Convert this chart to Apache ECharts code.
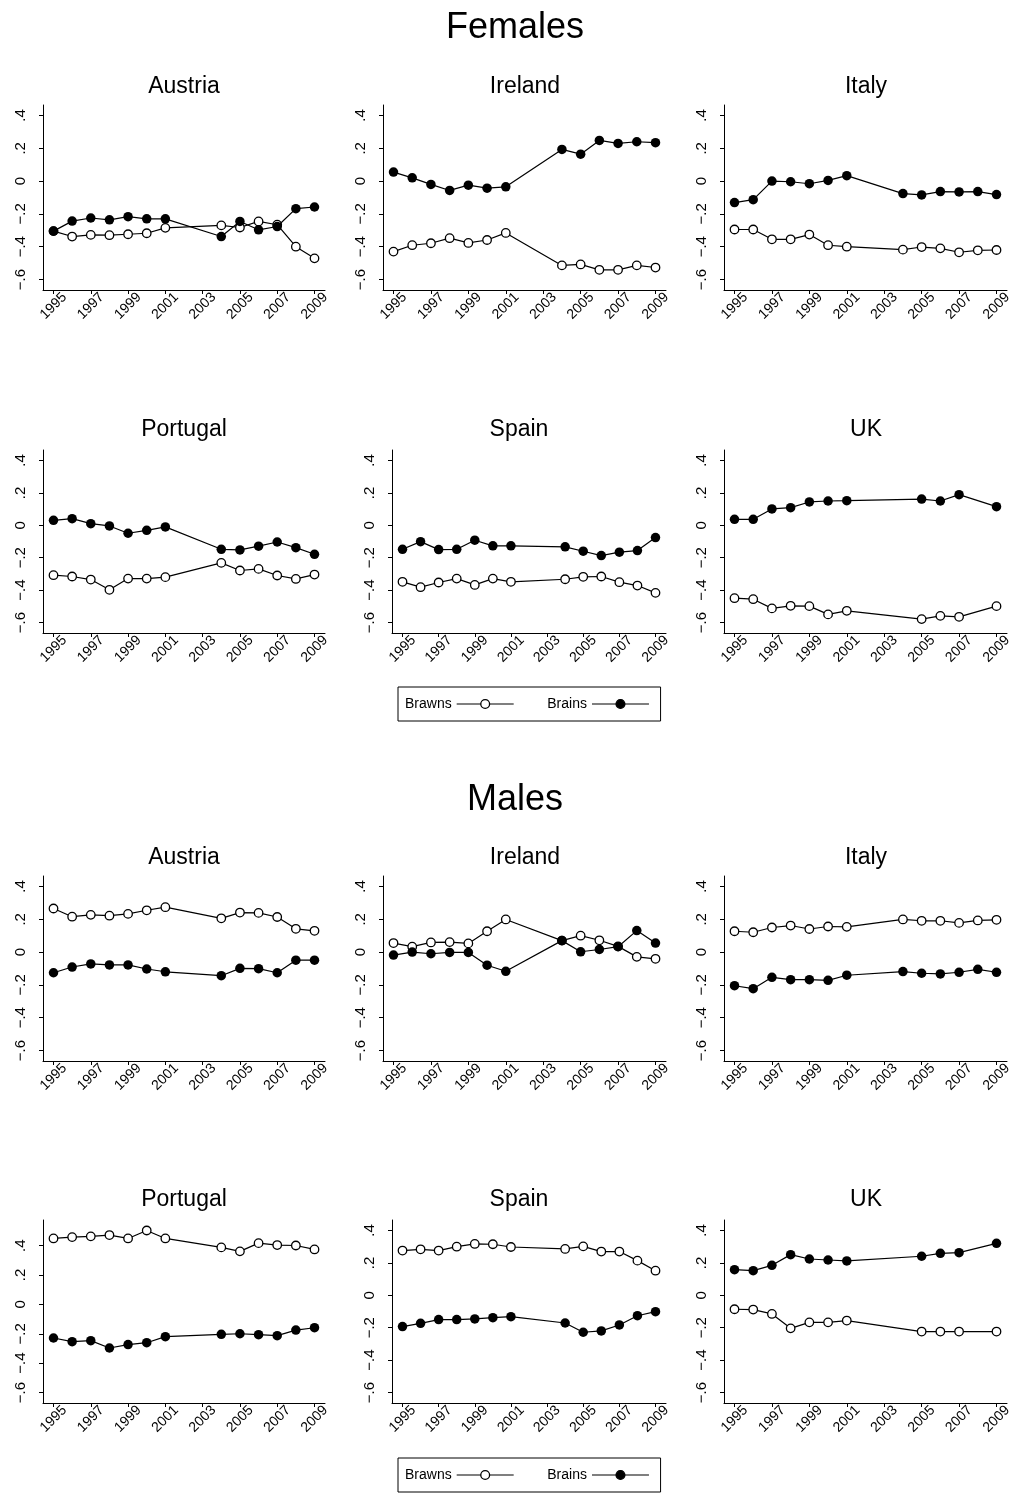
<!DOCTYPE html>
<html>
<head>
<meta charset="utf-8">
<title>Brawns and Brains by country, 1995-2009</title>
<script src="https://cdn.jsdelivr.net/npm/echarts@6/dist/echarts.min.js"></script>
<style>
  html, body { margin: 0; padding: 0; background: #fff; }
  #chart { width: 1009px; height: 1495px; }
</style>
</head>
<body>
<div id="chart"></div>
<script>
// ---- data -------------------------------------------------------------
const yearsMain = [1995, 1996, 1997, 1998, 1999, 2000, 2001, 2004, 2005, 2006, 2007, 2008, 2009];
const yearsUK   = [1995, 1996, 1997, 1998, 1999, 2000, 2001, 2005, 2006, 2007, 2009];

const xTickValues = [1995, 1997, 1999, 2001, 2003, 2005, 2007, 2009];
const yTickValues = [-0.6, -0.4, -0.2, 0, 0.2, 0.4];
const yTickLabels = ['\u2212.6', '\u2212.4', '\u2212.2', '0', '.2', '.4'];

// Females
const femAustriaBrawns  = [-0.305, -0.338, -0.328, -0.330, -0.324, -0.318, -0.285, -0.270, -0.283, -0.246, -0.266, -0.400, -0.471];
const femAustriaBrains  = [-0.305, -0.244, -0.225, -0.236, -0.217, -0.230, -0.230, -0.338, -0.246, -0.297, -0.277, -0.168, -0.158];
const femIrelandBrawns  = [-0.430, -0.391, -0.379, -0.348, -0.377, -0.359, -0.316, -0.514, -0.508, -0.541, -0.541, -0.514, -0.527];
const femIrelandBrains  = [0.055, 0.020, -0.020, -0.057, -0.025, -0.043, -0.035, 0.193, 0.164, 0.248, 0.230, 0.240, 0.234];
const femItalyBrawns    = [-0.295, -0.295, -0.355, -0.355, -0.326, -0.391, -0.400, -0.418, -0.402, -0.410, -0.434, -0.422, -0.420];
const femItalyBrains    = [-0.131, -0.113, 0.000, -0.004, -0.016, 0.004, 0.033, -0.076, -0.084, -0.064, -0.066, -0.064, -0.082];
const femPortugalBrawns = [-0.308, -0.316, -0.335, -0.398, -0.329, -0.329, -0.320, -0.232, -0.279, -0.269, -0.310, -0.331, -0.304];
const femPortugalBrains = [0.031, 0.041, 0.010, -0.004, -0.049, -0.031, -0.010, -0.148, -0.152, -0.129, -0.103, -0.138, -0.179];
const femSpainBrawns    = [-0.349, -0.382, -0.353, -0.329, -0.368, -0.329, -0.349, -0.333, -0.318, -0.316, -0.351, -0.372, -0.417];
const femSpainBrains    = [-0.148, -0.101, -0.150, -0.148, -0.092, -0.127, -0.127, -0.133, -0.160, -0.187, -0.166, -0.156, -0.076];
const femUKBrawns       = [-0.450, -0.456, -0.513, -0.497, -0.499, -0.550, -0.528, -0.579, -0.559, -0.565, -0.499];
const femUKBrains       = [0.037, 0.037, 0.101, 0.109, 0.144, 0.150, 0.152, 0.162, 0.150, 0.189, 0.115];

// Males
const maleAustriaBrawns  = [0.266, 0.216, 0.227, 0.222, 0.233, 0.255, 0.274, 0.206, 0.241, 0.239, 0.214, 0.142, 0.130];
const maleAustriaBrains  = [-0.126, -0.091, -0.072, -0.078, -0.078, -0.103, -0.120, -0.144, -0.099, -0.101, -0.126, -0.049, -0.049];
const maleIrelandBrawns  = [0.055, 0.033, 0.059, 0.061, 0.053, 0.127, 0.199, 0.070, 0.100, 0.072, 0.035, -0.029, -0.041];
const maleIrelandBrains  = [-0.018, 0.000, -0.010, -0.002, -0.002, -0.080, -0.117, 0.070, 0.002, 0.016, 0.033, 0.131, 0.055];
const maleItalyBrawns    = [0.127, 0.121, 0.150, 0.162, 0.141, 0.156, 0.154, 0.199, 0.191, 0.191, 0.178, 0.193, 0.197];
const maleItalyBrains    = [-0.205, -0.223, -0.154, -0.168, -0.168, -0.172, -0.141, -0.119, -0.129, -0.133, -0.123, -0.105, -0.123];
const malePortugalBrawns = [0.449, 0.458, 0.463, 0.472, 0.449, 0.503, 0.449, 0.388, 0.361, 0.417, 0.404, 0.401, 0.374];
const malePortugalBrains = [-0.229, -0.254, -0.247, -0.297, -0.274, -0.261, -0.220, -0.204, -0.200, -0.206, -0.213, -0.175, -0.159];
const maleSpainBrawns    = [0.276, 0.284, 0.276, 0.300, 0.317, 0.315, 0.298, 0.286, 0.302, 0.270, 0.270, 0.214, 0.152];
const maleSpainBrains    = [-0.193, -0.173, -0.150, -0.150, -0.146, -0.138, -0.132, -0.171, -0.228, -0.220, -0.183, -0.126, -0.101];
const maleUKBrawns       = [-0.086, -0.088, -0.115, -0.204, -0.167, -0.167, -0.156, -0.224, -0.224, -0.224, -0.224];
const maleUKBrains       = [0.158, 0.152, 0.185, 0.251, 0.224, 0.218, 0.212, 0.241, 0.259, 0.263, 0.321];

// ---- layout -----------------------------------------------------------
const FONT = '"Liberation Sans", Arial, Helvetica, sans-serif';
const INK = '#000';

const rows = [
  { top: 105,  height: 185, titleY: 87 },
  { top: 450,  height: 183, titleY: 430 },
  { top: 876,  height: 185, titleY: 858 },
  { top: 1220, height: 183, titleY: 1200 }
];
const cols = [
  { left: 43,  width: 282, titleX: 184 },
  { left: 383, width: 283, titleX: 525 },
  { left: 724, width: 283, titleX: 866 }
];
const colSpain = { left: 392, width: 274, titleX: 519 };

const panels = [
  { name: 'Austria',  row: 0, col: cols[0], years: yearsMain, brawns: femAustriaBrawns,  brains: femAustriaBrains },
  { name: 'Ireland',  row: 0, col: cols[1], years: yearsMain, brawns: femIrelandBrawns,  brains: femIrelandBrains },
  { name: 'Italy',    row: 0, col: cols[2], years: yearsMain, brawns: femItalyBrawns,    brains: femItalyBrains },
  { name: 'Portugal', row: 1, col: cols[0], years: yearsMain, brawns: femPortugalBrawns, brains: femPortugalBrains },
  { name: 'Spain',    row: 1, col: colSpain, years: yearsMain, brawns: femSpainBrawns,   brains: femSpainBrains },
  { name: 'UK',       row: 1, col: cols[2], years: yearsUK,   brawns: femUKBrawns,       brains: femUKBrains },
  { name: 'Austria',  row: 2, col: cols[0], years: yearsMain, brawns: maleAustriaBrawns,  brains: maleAustriaBrains },
  { name: 'Ireland',  row: 2, col: cols[1], years: yearsMain, brawns: maleIrelandBrawns,  brains: maleIrelandBrains },
  { name: 'Italy',    row: 2, col: cols[2], years: yearsMain, brawns: maleItalyBrawns,    brains: maleItalyBrains },
  { name: 'Portugal', row: 3, col: cols[0], years: yearsMain, brawns: malePortugalBrawns, brains: malePortugalBrains },
  { name: 'Spain',    row: 3, col: colSpain, years: yearsMain, brawns: maleSpainBrawns,   brains: maleSpainBrains },
  { name: 'UK',       row: 3, col: cols[2], years: yearsUK,   brawns: maleUKBrawns,       brains: maleUKBrains }
];

// plot region keeps a small inner margin around the data/label range
const INNER_PAD_PX = 10.5;

function yLabel(v) {
  const i = yTickValues.findIndex(t => Math.abs(t - v) < 1e-9);
  return i >= 0 ? yTickLabels[i] : '';
}

const titles = [
  { text: 'Females', x: 515, y: 28, size: 36 },
  { text: 'Males',   x: 515, y: 800, size: 36 }
];
const grids = [], xAxes = [], yAxes = [], series = [];

panels.forEach((p, i) => {
  const r = rows[p.row];
  const c = p.col;
  grids.push({ left: c.left, top: r.top, width: c.width, height: r.height, outerBoundsMode: 'none', containLabel: false });
  titles.push({ text: p.name, x: c.titleX, y: r.titleY, size: 23 });

  const all = p.brawns.concat(p.brains);
  const hi = Math.max(0.4, Math.max.apply(null, all));
  const lo = Math.min(-0.6, Math.min.apply(null, all));
  const yPad = (hi - lo) * INNER_PAD_PX / (r.height - 2 * INNER_PAD_PX);
  const xPad = 14 * INNER_PAD_PX / (c.width - 2 * INNER_PAD_PX);

  xAxes.push({
    type: 'value', gridIndex: i,
    min: 1995 - xPad, max: 2009 + xPad,
    axisLine: { show: true, onZero: false, lineStyle: { color: INK, width: 1 } },
    axisTick: { show: true, length: 4, customValues: xTickValues, lineStyle: { color: INK, width: 1 } },
    axisLabel: {
      customValues: xTickValues, rotate: 45, margin: 16,
      align: 'center', verticalAlign: 'middle',
      fontSize: 14, fontFamily: FONT, color: INK,
      hideOverlap: false, formatter: v => String(Math.round(v))
    },
    splitLine: { show: false }
  });
  yAxes.push({
    type: 'value', gridIndex: i,
    min: lo - yPad, max: hi + yPad,
    axisLine: { show: true, onZero: false, lineStyle: { color: INK, width: 1 } },
    axisTick: { show: true, length: 4, customValues: yTickValues, lineStyle: { color: INK, width: 1 } },
    axisLabel: {
      customValues: yTickValues, rotate: 90, margin: 22,
      align: 'center', verticalAlign: 'middle',
      fontSize: 15, fontFamily: FONT, color: INK,
      hideOverlap: false, formatter: yLabel
    },
    splitLine: { show: false }
  });

  series.push({
    name: 'Brawns', type: 'line', xAxisIndex: i, yAxisIndex: i,
    data: p.years.map((yr, k) => [yr, p.brawns[k]]),
    symbol: 'circle', symbolSize: 8.5,
    itemStyle: { color: '#fff', borderColor: INK, borderWidth: 1.3 },
    lineStyle: { color: INK, width: 1.2 },
    emphasis: { disabled: true }, z: 2
  });
  series.push({
    name: 'Brains', type: 'line', xAxisIndex: i, yAxisIndex: i,
    data: p.years.map((yr, k) => [yr, p.brains[k]]),
    symbol: 'circle', symbolSize: 9.5,
    itemStyle: { color: INK, borderColor: INK, borderWidth: 0 },
    lineStyle: { color: INK, width: 1.2 },
    emphasis: { disabled: true }, z: 3
  });
});

function legendAt(top) {
  return {
    data: ['Brawns', 'Brains'],
    left: 398, top: top,
    orient: 'horizontal', align: 'right',
    itemWidth: 57, itemHeight: 11, itemGap: 33,
    padding: [10, 11, 10, 7],
    borderColor: INK, borderWidth: 1, borderRadius: 0,
    backgroundColor: '#fff',
    selectedMode: false,
    itemStyle: { borderWidth: 1.3 },
    lineStyle: { width: 1.2 },
    textStyle: { fontSize: 14, color: INK, fontFamily: FONT }
  };
}

const option = {
  backgroundColor: '#fff',
  animation: false,
  title: titles.map(t => ({
    text: t.text, left: t.x, top: t.y,
    textAlign: 'center', textVerticalAlign: 'middle', padding: 0,
    textStyle: { fontSize: t.size, fontWeight: 'normal', color: INK, fontFamily: FONT }
  })),
  legend: [legendAt(687), legendAt(1458)],
  grid: grids,
  xAxis: xAxes,
  yAxis: yAxes,
  series: series
};

const chart = echarts.init(document.getElementById('chart'), null, { renderer: 'canvas' });
chart.setOption(option);
</script>
</body>
</html>
